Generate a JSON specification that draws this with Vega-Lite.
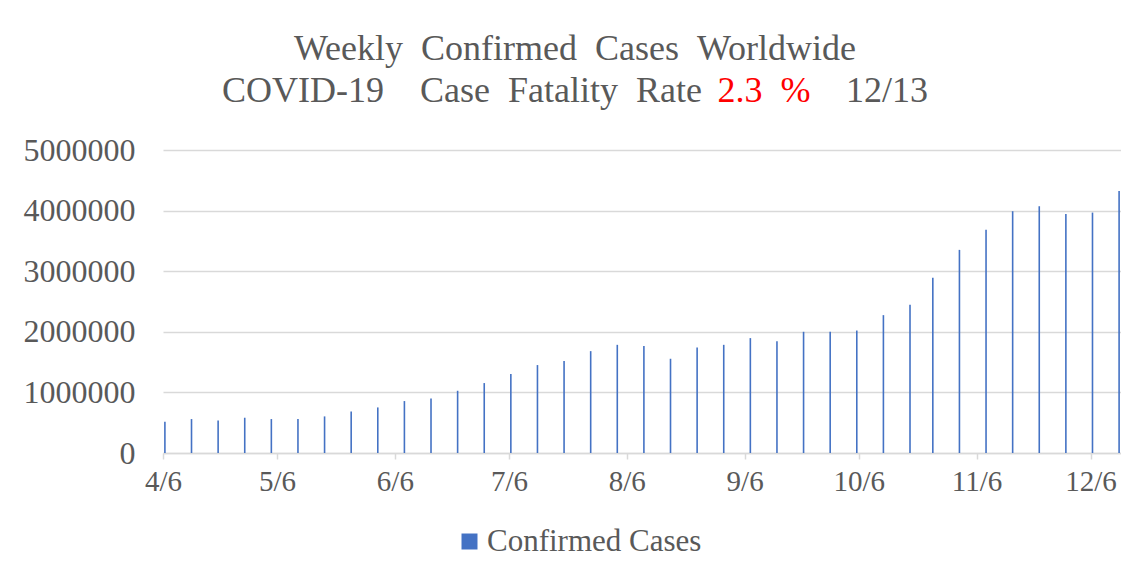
{
  "$schema": "https://vega.github.io/schema/vega-lite/v6.json",
  "width": 958,
  "height": 303,
  "padding": {"left": 23, "top": 31, "right": 0, "bottom": 0},
  "background": "white",
  "title": {
    "text": [
      "Weekly\u00a0\u00a0Confirmed\u00a0\u00a0Cases\u00a0\u00a0Worldwide",
      "COVID-19\u00a0\u00a0\u00a0\u00a0Case\u00a0\u00a0Fatality\u00a0\u00a0Rate\u00a0\u00a0\u00a0\u00a0\u00a0\u00a0\u00a0\u00a0\u00a0\u00a0\u00a0\u00a0\u00a0\u00a0\u00a0\u00a012/13"
    ],
    "subtitle": "\u200b\u00a0\u00a0\u00a0\u00a0\u00a0\u00a0\u00a0\u00a0\u00a0\u00a0\u00a0\u00a0\u00a0\u00a0\u00a0\u00a0\u00a0\u00a0\u00a0\u00a0\u00a0\u00a0\u00a0\u00a0\u00a0\u00a0\u00a0\u00a0\u00a0\u00a0\u00a0\u00a0\u00a0\u00a0\u00a0\u00a0\u00a0\u00a0\u00a0\u00a0\u00a0\u00a02.3\u00a0\u00a0%",
    "anchor": "middle",
    "frame": "bounds",
    "dx": 3,
    "font": "Liberation Serif",
    "fontSize": 36,
    "fontWeight": "normal",
    "color": "#595959",
    "lineHeight": 42,
    "subtitleFont": "Liberation Serif",
    "subtitleFontSize": 36,
    "subtitleFontWeight": "normal",
    "subtitleColor": "#ff0000",
    "subtitleLineHeight": 42,
    "subtitlePadding": -36,
    "offset": 24
  },
  "data": {
    "values": [
      {"date": "2020-04-06", "cases": 516000},
      {"date": "2020-04-13", "cases": 560000},
      {"date": "2020-04-20", "cases": 538000},
      {"date": "2020-04-27", "cases": 582000},
      {"date": "2020-05-04", "cases": 560000},
      {"date": "2020-05-11", "cases": 560000},
      {"date": "2020-05-18", "cases": 604000},
      {"date": "2020-05-25", "cases": 686000},
      {"date": "2020-06-01", "cases": 752000},
      {"date": "2020-06-08", "cases": 857000},
      {"date": "2020-06-15", "cases": 900000},
      {"date": "2020-06-22", "cases": 1027000},
      {"date": "2020-06-29", "cases": 1154000},
      {"date": "2020-07-06", "cases": 1302000},
      {"date": "2020-07-13", "cases": 1451000},
      {"date": "2020-07-20", "cases": 1517000},
      {"date": "2020-07-27", "cases": 1681000},
      {"date": "2020-08-03", "cases": 1785000},
      {"date": "2020-08-10", "cases": 1764000},
      {"date": "2020-08-17", "cases": 1555000},
      {"date": "2020-08-24", "cases": 1741000},
      {"date": "2020-08-31", "cases": 1785000},
      {"date": "2020-09-07", "cases": 1896000},
      {"date": "2020-09-14", "cases": 1846000},
      {"date": "2020-09-21", "cases": 2000000},
      {"date": "2020-09-28", "cases": 2000000},
      {"date": "2020-10-05", "cases": 2021000},
      {"date": "2020-10-12", "cases": 2275000},
      {"date": "2020-10-19", "cases": 2445000},
      {"date": "2020-10-25", "cases": 2890000},
      {"date": "2020-11-01", "cases": 3352000},
      {"date": "2020-11-08", "cases": 3686000},
      {"date": "2020-11-15", "cases": 3990000},
      {"date": "2020-11-22", "cases": 4072000},
      {"date": "2020-11-29", "cases": 3945000},
      {"date": "2020-12-06", "cases": 3967000},
      {"date": "2020-12-13", "cases": 4324000}
    ]
  },
  "mark": {"type": "rule", "strokeWidth": 1.6},
  "encoding": {
    "x": {
      "field": "date",
      "type": "temporal",
      "timeUnit": "utcyearmonthdate",
      "bandPosition": 0.5,
      "scale": {
        "type": "utc",
        "domain": [
          {"year": 2020, "month": 4, "date": 6, "utc": true},
          {"year": 2020, "month": 12, "date": 14, "utc": true}
        ]
      },
      "axis": {
        "title": null,
        "values": [
          {"year": 2020, "month": 4, "date": 6, "utc": true},
          {"year": 2020, "month": 5, "date": 6, "utc": true},
          {"year": 2020, "month": 6, "date": 6, "utc": true},
          {"year": 2020, "month": 7, "date": 6, "utc": true},
          {"year": 2020, "month": 8, "date": 6, "utc": true},
          {"year": 2020, "month": 9, "date": 6, "utc": true},
          {"year": 2020, "month": 10, "date": 6, "utc": true},
          {"year": 2020, "month": 11, "date": 6, "utc": true},
          {"year": 2020, "month": 12, "date": 6, "utc": true}
        ],
        "format": "%-m/%-d",
        "grid": false,
        "labelFont": "Liberation Serif",
        "labelFontSize": 29,
        "labelColor": "#595959",
        "labelPadding": 8,
        "labelFlush": false,
        "labelOverlap": false,
        "domainColor": "#d9d9d9",
        "domainWidth": 1.5,
        "tickColor": "#d9d9d9",
        "tickWidth": 1.5,
        "tickSize": 6
      }
    },
    "y": {
      "field": "cases",
      "type": "quantitative",
      "scale": {"domain": [0, 5000000]},
      "axis": {
        "title": null,
        "values": [0, 1000000, 2000000, 3000000, 4000000, 5000000],
        "format": "d",
        "domain": false,
        "ticks": false,
        "labelFont": "Liberation Serif",
        "labelFontSize": 32,
        "labelColor": "#595959",
        "labelPadding": 28,
        "gridColor": "#d9d9d9",
        "gridWidth": 1.5
      }
    },
    "y2": {"datum": 0},
    "color": {
      "datum": "Confirmed Cases",
      "scale": {"range": ["#4472c4"]},
      "legend": {
        "title": null,
        "orient": "none",
        "legendX": 291,
        "legendY": 376,
        "symbolType": "square",
        "symbolSize": 256,
        "labelFont": "Liberation Serif",
        "labelFontSize": 31,
        "labelColor": "#595959",
        "labelOffset": 2,
        "labelLimit": 500,
        "encode": {
          "symbols": {
            "update": {
              "fill": {"value": "#4472c4"},
              "stroke": {"value": "#4472c4"},
              "strokeWidth": {"value": 0}
            }
          }
        }
      }
    }
  },
  "config": {
    "view": {"stroke": null}
  }
}
